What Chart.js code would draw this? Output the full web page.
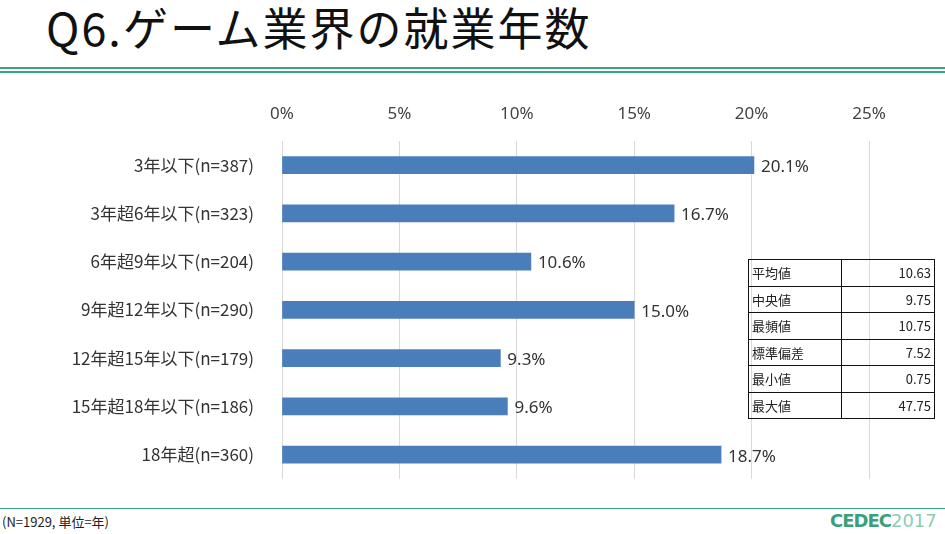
<!DOCTYPE html>
<html>
<head>
<meta charset="utf-8">
<script src="https://cdn.jsdelivr.net/npm/chart.js@4"></script>
<style>
  body { margin: 0; width: 945px; height: 534px; background: #fff; position: relative; overflow: hidden;
         font-family: "Noto Sans CJK JP", "Noto Sans", sans-serif; }
  #title { position: absolute; left: 46px; top: -6px; font-size: 45px; color: #111; letter-spacing: 2px; }
  .line { position: absolute; left: 0; width: 945px; height: 1.5px; background: #3aa57a; }
  #wrap { position: absolute; left: 0; top: 96px; width: 945px; height: 413px; }
  #stats { position: absolute; left: 748px; top: 259px; border-collapse: collapse; font-size: 13px; color: #222; }
  #stats td { border: 1.5px solid #111; height: 25.5px; padding: 0 3px; }
  #stats td.v { text-align: right; width: 86px; }
  #stats td.k { width: 86px; }
  #note { position: absolute; left: 2px; top: 512px; font-size: 13px; color: #222; }
  #logo { position: absolute; left: 830px; top: 510px; font-size: 18px; color: #3a9f7a; font-family: "DejaVu Sans"; font-weight: bold; letter-spacing: -1px; }
  #logo span { font-weight: normal; color: #8ccdb3; letter-spacing: 0; }
</style>
</head>
<body>
<div id="title">Q6.ゲーム業界の就業年数</div>
<div class="line" style="top:67px"></div>
<div class="line" style="top:71px"></div>
<div id="wrap"><canvas id="chart"></canvas></div>
<table id="stats"></table>
<div class="line" style="top:508px;height:1px"></div>
<div id="note">(N=1929, 単位=年)</div>
<div id="logo">CEDEC<span>2017</span></div>
<script>
const categories = ["3年以下(n=387)", "3年超6年以下(n=323)", "6年超9年以下(n=204)", "9年超12年以下(n=290)",
  "12年超15年以下(n=179)", "15年超18年以下(n=186)", "18年超(n=360)"];
const shares = [20.1, 16.7, 10.6, 15.0, 9.3, 9.6, 18.7];
const statLabels = ["平均値", "中央値", "最頻値", "標準偏差", "最小値", "最大値"];
const statValues = ["10.63", "9.75", "10.75", "7.52", "0.75", "47.75"];

document.getElementById("stats").innerHTML = statLabels
  .map((k, i) => `<tr><td class="k">${k}</td><td class="v">${statValues[i]}</td></tr>`).join("");

// draw value labels right of each bar
const valueLabels = {
  id: "valueLabels",
  afterDatasetsDraw(chart) {
    const ctx = chart.ctx;
    ctx.save();
    ctx.font = '17px "Noto Sans", sans-serif';
    ctx.fillStyle = "#333";
    ctx.textBaseline = "middle";
    chart.getDatasetMeta(0).data.forEach((bar, i) => {
      ctx.fillText(shares[i].toFixed(1) + "%", bar.x + 7, bar.y + 2);
    });
    ctx.restore();
  }
};

new Chart(document.getElementById("chart"), {
  type: "bar",
  data: {
    labels: categories,
    datasets: [{ data: shares, backgroundColor: "#4a7ebb", barThickness: 17 }]
  },
  options: {
    indexAxis: "y",
    responsive: true,
    maintainAspectRatio: false,
    animation: false,
    layout: { padding: { right: 76, bottom: 10 } },
    plugins: { legend: { display: false }, tooltip: { enabled: false } },
    scales: {
      x: {
        position: "top", min: 0, max: 25,
        ticks: { stepSize: 5, color: "#444", font: { size: 17, family: "Noto Sans" }, padding: 17, callback: v => v + "%" },
        grid: { color: "#d9d9d9", drawTicks: false },
        border: { display: false },
        afterFit: s => { s.height = 45; }
      },
      y: {
        ticks: { color: "#333", font: { size: 17, family: "Noto Sans CJK JP" }, padding: 20 },
        grid: { display: false },
        border: { display: false },
        afterFit: s => { s.width = 282; }
      }
    }
  },
  plugins: [valueLabels]
});
</script>
</body>
</html>
